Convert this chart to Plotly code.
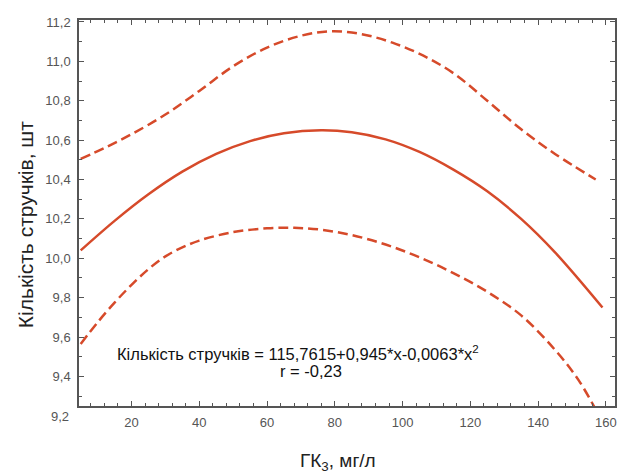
import plotly.graph_objects as go

# Fitted curve (solid)
fit_x = [5, 15, 25, 35, 45, 55, 65, 76, 85, 95, 105, 115, 125, 135, 145, 159]
fit_y = [10.04, 10.19, 10.325, 10.44, 10.53, 10.595, 10.635, 10.65, 10.64, 10.604, 10.54, 10.45, 10.34, 10.20, 10.03, 9.75]

# Upper confidence band (dashed)
up_x = [5, 12, 20, 30, 40, 50, 60, 70, 79, 88, 97, 106, 115, 125, 135, 145, 157]
up_y = [10.505, 10.56, 10.63, 10.73, 10.85, 10.975, 11.07, 11.13, 11.153, 11.138, 11.095, 11.03, 10.94, 10.80, 10.655, 10.53, 10.40]

# Lower confidence band (dashed)
lo_x = [5, 10, 15, 20, 25, 30, 35, 40, 50, 60, 68, 76, 85, 95, 105, 115, 125, 135, 145, 152, 158]
lo_y = [9.565, 9.675, 9.775, 9.865, 9.945, 10.01, 10.055, 10.09, 10.133, 10.152, 10.155, 10.145, 10.118, 10.07, 10.005, 9.925, 9.83, 9.71, 9.535, 9.38, 9.2]

x_ticks = [20, 40, 60, 80, 100, 120, 140, 160]
y_ticks = [9.4, 9.6, 9.8, 10.0, 10.2, 10.4, 10.6, 10.8, 11.0, 11.2]

color = "#d64a2a"
font = "Liberation Sans, Arial, sans-serif"

fig = go.Figure()
fig.add_trace(go.Scatter(x=up_x, y=up_y, mode="lines", line=dict(color=color, width=2.5, dash="10px,5px", shape="spline")))
fig.add_trace(go.Scatter(x=lo_x, y=lo_y, mode="lines", line=dict(color=color, width=2.5, dash="10px,5px", shape="spline")))
fig.add_trace(go.Scatter(x=fit_x, y=fit_y, mode="lines", line=dict(color=color, width=2.5, shape="spline")))

axis_common = dict(
    showgrid=False, zeroline=False, showline=True, linecolor="#555", linewidth=1.5,
    mirror="ticks", ticks="inside", ticklen=5, tickcolor="#555", tickwidth=1,
    tickfont=dict(family=font, size=13, color="#555"),
)

fig.update_xaxes(range=[4.5, 162.7], tickvals=x_ticks, ticklabelstandoff=4,
                 minor=dict(dtick=4, tick0=0, ticks="inside", ticklen=3, tickcolor="#555"),
                 **axis_common)
fig.update_yaxes(range=[9.25, 11.21], tickvals=y_ticks, tickformat=".1f", ticklabelstandoff=4,
                 minor=dict(dtick=0.1, tick0=0, ticks="inside", ticklen=3, tickcolor="#555"),
                 **axis_common)

W, H = 621, 475
L, R, T, B = 79, 4, 20, 69
pw, ph = W - L - R, H - T - B


def pix(px, py, **kw):
    d = dict(x=(px - L) / pw, y=(H - B - py) / ph, xref="paper", yref="paper",
             showarrow=False, xanchor="center", yanchor="middle")
    d.update(kw)
    return d


annotations = [
    pix(71, 416, text="9,2", xanchor="right", font=dict(family=font, size=13, color="#555")),
    pix(25, 225, text="Кількість стручків, шт", textangle=-90,
        font=dict(family=font, size=21, color="#222")),
    pix(339, 462, text="ГК<sub>3</sub>, мг/л", font=dict(family=font, size=19, color="#222")),
    pix(299, 353, text="Кількість стручків = 115,7615+0,945*x-0,0063*x<sup>2</sup>",
        font=dict(family=font, size=16.5, color="#111")),
    pix(312, 371, text="r = -0,23", font=dict(family=font, size=16.5, color="#111")),
]

fig.update_layout(
    width=W, height=H,
    margin=dict(l=L, r=R, t=T, b=B),
    paper_bgcolor="white", plot_bgcolor="white",
    showlegend=False,
    separators=", ",
    font=dict(family=font),
    annotations=annotations,
)

fig.write_html("out.html")
